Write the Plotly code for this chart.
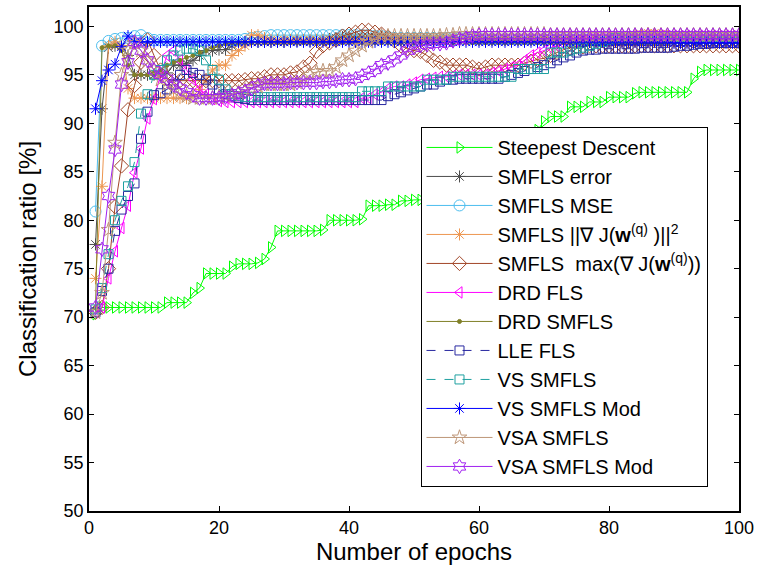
import plotly.graph_objects as go

epochs = list(range(1, 101))

steepest_descent = [
    70.3, 71.0, 71.0, 71.0, 71.0, 71.0, 71.0, 71.0, 71.0, 71.0,
    71.0, 71.5, 71.5, 71.5, 71.5, 72.5, 73.0, 74.5, 74.5, 74.5,
    74.5, 75.2, 75.5, 75.5, 75.5, 75.6, 76.0, 77.2, 78.9, 78.9,
    78.9, 78.9, 78.9, 78.9, 78.9, 79.0, 80.0, 80.0, 80.0, 80.0,
    80.0, 80.1, 81.5, 81.5, 81.5, 81.6, 81.6, 82.0, 82.0, 82.1,
    82.1, 82.5, 82.5, 82.7, 83.0, 83.5, 83.5, 84.0, 84.5, 85.0,
    85.0, 85.5, 86.0, 86.5, 87.0, 87.5, 88.0, 88.5, 89.3, 90.2,
    90.7, 90.7, 90.7, 91.7, 91.7, 91.7, 92.2, 92.2, 92.2, 92.7,
    92.7, 92.7, 92.7, 93.1, 93.2, 93.2, 93.2, 93.2, 93.2, 93.2,
    93.2, 93.2, 94.6, 95.3, 95.5, 95.5, 95.5, 95.5, 95.5, 95.5]

smfls_error = [
    77.5, 91.5, 97.8, 98.0, 98.0, 97.0, 95.0, 95.0, 95.0, 95.0,
    95.0, 95.2, 96.0, 96.0, 96.2, 96.5, 97.0, 97.5, 97.5, 97.6,
    97.6, 98.0, 98.2, 98.4, 98.4, 98.4, 98.4, 98.4, 98.4, 98.4,
    98.5, 98.5, 98.5, 98.5, 98.6, 98.6, 98.7, 98.8, 98.9, 98.9,
    98.9, 98.9, 98.9, 98.9, 98.9, 98.9, 98.8, 98.8, 98.8, 98.8,
    98.8, 98.8, 98.8, 98.8, 98.7, 98.7, 98.7, 98.7, 98.6, 98.6,
    98.6, 98.6, 98.6, 98.6, 98.6, 98.6, 98.6, 98.6, 98.6, 98.6,
    98.6, 98.6, 98.6, 98.6, 98.6, 98.6, 98.6, 98.6, 98.6, 98.6,
    98.6, 98.6, 98.6, 98.6, 98.6, 98.6, 98.6, 98.6, 98.6, 98.6,
    98.6, 98.6, 98.6, 98.6, 98.6, 98.6, 98.6, 98.6, 98.6, 98.6]

smfls_mse = [
    80.9, 98.0, 98.5, 98.7, 98.8, 98.8, 99.0, 99.1, 98.8, 98.6,
    98.6, 98.6, 98.6, 98.6, 98.6, 98.6, 98.6, 98.6, 98.6, 98.6,
    98.6, 98.6, 98.6, 98.7, 98.8, 98.9, 99.0, 99.1, 99.1, 99.1,
    99.1, 99.1, 99.1, 99.1, 99.1, 99.1, 99.1, 99.1, 99.1, 99.1,
    99.1, 99.1, 99.1, 99.0, 99.0, 98.9, 98.8, 98.8, 98.8, 98.8,
    98.8, 98.8, 98.8, 98.8, 98.8, 98.8, 98.8, 98.8, 98.8, 98.8,
    98.7, 98.7, 98.7, 98.7, 98.7, 98.7, 98.7, 98.7, 98.7, 98.7,
    98.7, 98.7, 98.7, 98.7, 98.7, 98.7, 98.7, 98.7, 98.7, 98.7,
    98.7, 98.7, 98.7, 98.7, 98.7, 98.7, 98.7, 98.7, 98.7, 98.7,
    98.7, 98.7, 98.7, 98.7, 98.7, 98.7, 98.7, 98.7, 98.7, 98.7]

smfls_grad = [
    74.0, 83.5, 98.0, 98.4, 98.0, 93.6, 92.6, 92.6, 92.6, 92.6,
    92.6, 92.6, 92.6, 92.6, 92.6, 92.8, 93.5, 94.5, 95.5, 96.0,
    96.0, 97.0, 97.5, 98.0, 99.1, 99.1, 98.8, 98.6, 98.6, 98.6,
    98.6, 98.6, 98.6, 98.6, 98.6, 98.6, 98.6, 98.6, 98.6, 98.6,
    98.6, 98.6, 98.6, 98.7, 98.7, 98.7, 98.7, 98.7, 98.7, 98.7,
    98.7, 98.7, 98.7, 98.7, 98.7, 98.7, 98.7, 98.7, 98.7, 98.7,
    98.7, 98.7, 98.7, 98.7, 98.7, 98.7, 98.7, 98.7, 98.7, 98.7,
    98.7, 98.7, 98.7, 98.7, 98.7, 98.7, 98.7, 98.7, 98.7, 98.7,
    98.7, 98.8, 98.9, 99.0, 99.2, 99.3, 99.3, 99.2, 99.0, 98.9,
    98.8, 98.8, 98.8, 98.8, 98.8, 98.8, 98.8, 98.8, 98.8, 98.8]

smfls_max = [
    70.5, 71.0, 75.0, 81.4, 85.6, 91.4, 93.9, 96.3, 98.6, 97.0,
    95.5, 94.6, 94.4, 94.4, 94.4, 94.4, 94.4, 94.4, 94.4, 94.4,
    94.4, 94.4, 94.4, 94.5, 94.6, 94.6, 94.8, 95.0, 95.0, 95.0,
    95.2, 95.3, 95.8, 96.2, 97.4, 98.0, 98.3, 98.6, 99.0, 99.2,
    99.4, 99.6, 99.6, 99.4, 99.2, 98.9, 98.5, 98.0, 97.7, 97.5,
    97.4, 97.0, 96.5, 96.3, 96.0, 96.0, 96.0, 96.0, 95.8, 95.6,
    95.8, 96.0, 96.0, 96.0, 96.0, 96.0, 96.2, 96.4, 96.6, 96.7,
    97.0, 97.3, 97.6, 97.8, 97.9, 97.9, 98.0, 98.0, 98.0, 98.0,
    98.0, 98.0, 98.0, 98.0, 98.0, 98.0, 98.0, 98.0, 98.0, 98.0,
    98.0, 98.0, 98.0, 98.0, 98.0, 98.0, 98.0, 98.0, 98.0, 98.0]

drd_fls = [
    70.5, 71.0, 74.0, 76.8, 79.2, 81.5, 84.9, 87.4, 90.5, 92.5,
    95.0, 97.0, 97.5, 96.5, 95.5, 94.5, 93.5, 93.0, 92.5, 92.3,
    92.2, 92.2, 92.2, 92.2, 92.2, 92.2, 92.2, 92.2, 92.2, 92.2,
    92.2, 92.2, 92.2, 92.2, 92.2, 92.2, 92.2, 92.2, 92.2, 92.2,
    92.2, 92.6, 92.6, 93.0, 93.2, 93.6, 93.8, 93.8, 94.0, 94.2,
    94.5, 94.6, 94.7, 94.8, 94.8, 94.9, 95.0, 95.0, 95.0, 95.0,
    95.0, 95.2, 95.4, 95.6, 95.8, 96.0, 96.5, 97.0, 97.3, 97.5,
    97.8, 98.0, 98.2, 98.4, 98.5, 98.6, 98.7, 98.8, 98.8, 98.9,
    98.9, 98.9, 98.9, 98.9, 98.9, 98.9, 99.0, 99.0, 99.0, 99.0,
    99.0, 99.0, 99.0, 99.0, 99.0, 99.0, 99.0, 99.0, 99.0, 99.0]

drd_smfls = [
    71.0, 97.8, 98.0, 98.0, 97.5, 96.0, 95.0, 95.0, 95.0, 95.2,
    95.5, 96.0, 96.3, 96.5, 96.8, 97.0, 97.3, 97.5, 97.8, 98.0,
    98.2, 98.3, 98.3, 98.3, 98.3, 98.3, 98.3, 98.3, 98.3, 98.3,
    98.3, 98.3, 98.3, 98.3, 98.3, 98.3, 98.3, 98.3, 98.3, 98.3,
    98.3, 98.3, 98.3, 98.3, 98.3, 98.3, 98.3, 98.3, 98.3, 98.3,
    98.3, 98.3, 98.3, 98.3, 98.3, 98.3, 98.3, 98.3, 98.3, 98.3,
    98.3, 98.3, 98.3, 98.3, 98.3, 98.3, 98.3, 98.3, 98.3, 98.3,
    98.3, 98.3, 98.3, 98.3, 98.3, 98.3, 98.3, 98.3, 98.3, 98.3,
    98.3, 98.3, 98.3, 98.3, 98.3, 98.3, 98.3, 98.3, 98.3, 98.3,
    98.3, 98.3, 98.3, 98.3, 98.3, 98.3, 98.3, 98.3, 98.3, 98.3]

lle_fls = [
    70.5, 72.7, 75.0, 78.9, 81.1, 82.5, 83.8, 88.4, 91.2, 92.9,
    93.1, 93.5, 94.0, 95.0, 95.5, 95.2, 95.0, 94.5, 94.0, 93.5,
    93.0, 92.8, 92.6, 92.5, 92.4, 92.4, 92.4, 92.4, 92.4, 92.4,
    92.4, 92.4, 92.4, 92.4, 92.4, 92.4, 92.4, 92.4, 92.4, 92.4,
    92.4, 92.4, 92.4, 92.4, 92.4, 92.8, 93.0, 93.2, 93.4, 93.6,
    93.8, 94.0, 94.0, 94.3, 94.5, 94.5, 94.6, 94.6, 94.6, 94.6,
    94.6, 94.6, 94.6, 94.8, 95.0, 95.2, 95.4, 95.6, 95.8, 96.0,
    96.2, 96.5, 96.8, 97.0, 97.3, 97.5, 97.6, 97.6, 97.7, 97.7,
    97.7, 97.7, 97.7, 97.7, 97.8, 97.8, 97.8, 97.8, 97.8, 97.9,
    98.0, 98.0, 98.1, 98.2, 98.2, 98.3, 98.3, 98.3, 98.3, 98.3]

vs_smfls = [
    70.8, 73.0, 76.5, 80.0, 82.0, 83.5, 86.0, 91.0, 93.0, 95.0,
    95.5, 96.5, 97.0, 97.5, 97.7, 97.7, 97.5, 96.5, 95.5, 94.5,
    93.5, 93.0, 92.8, 92.7, 92.7, 92.7, 92.7, 92.7, 92.7, 92.7,
    92.7, 92.7, 92.7, 92.7, 92.7, 92.7, 92.7, 92.7, 92.7, 92.7,
    92.7, 93.3, 93.3, 93.3, 93.3, 93.8, 93.8, 93.8, 93.8, 93.8,
    93.8, 94.5, 94.5, 94.5, 94.5, 94.8, 94.8, 94.8, 94.8, 94.8,
    94.8, 94.8, 94.8, 94.8, 94.8, 95.6, 95.6, 95.6, 95.6, 95.6,
    97.3, 97.3, 97.3, 97.5, 97.7, 97.8, 98.0, 98.2, 98.4, 98.6,
    98.8, 98.9, 98.9, 98.9, 98.9, 98.9, 98.9, 98.9, 98.9, 98.9,
    98.9, 98.9, 98.9, 98.9, 98.9, 98.9, 98.9, 98.9, 98.9, 98.9]

vs_smfls_mod = [
    91.5, 94.4, 95.5, 96.1, 97.9, 99.0, 98.4, 98.4, 98.4, 98.4,
    98.4, 98.4, 98.4, 98.4, 98.4, 98.4, 98.4, 98.4, 98.4, 98.4,
    98.4, 98.4, 98.4, 98.4, 98.4, 98.4, 98.4, 98.4, 98.4, 98.4,
    98.4, 98.4, 98.4, 98.4, 98.4, 98.4, 98.4, 98.4, 98.4, 98.4,
    98.4, 98.4, 98.4, 98.4, 98.4, 98.4, 98.4, 98.4, 98.4, 98.4,
    98.4, 98.4, 98.4, 98.4, 98.4, 98.4, 98.4, 98.4, 98.4, 98.4,
    98.4, 98.4, 98.4, 98.4, 98.4, 98.4, 98.4, 98.4, 98.4, 98.4,
    98.4, 98.4, 98.4, 98.4, 98.4, 98.4, 98.4, 98.4, 98.4, 98.4,
    98.4, 98.4, 98.4, 98.4, 98.4, 98.4, 98.4, 98.4, 98.4, 98.3,
    98.3, 98.3, 98.3, 98.3, 98.3, 98.3, 98.3, 98.3, 98.3, 98.3]

vsa_smfls = [
    70.5, 72.5, 79.0, 88.0, 95.0, 97.5, 98.3, 97.5, 96.5, 95.5,
    94.5, 94.0, 93.5, 93.0, 92.8, 92.6, 92.6, 92.6, 92.6, 92.7,
    92.8, 93.0, 93.2, 93.4, 93.6, 93.8, 94.0, 94.0, 94.0, 94.0,
    94.0, 94.2, 94.5, 95.0, 95.3, 95.4, 95.4, 95.8, 96.5, 97.0,
    97.5, 98.0, 98.4, 98.8, 99.0, 99.0, 99.0, 99.0, 99.0, 99.0,
    99.0, 99.0, 99.0, 99.0, 99.1, 99.1, 99.2, 99.2, 99.2, 99.2,
    99.2, 99.2, 99.2, 99.2, 99.2, 99.2, 99.2, 99.2, 99.2, 99.2,
    99.1, 99.1, 99.1, 99.1, 99.1, 99.1, 99.1, 99.1, 99.1, 99.1,
    99.1, 99.1, 99.1, 99.1, 99.1, 99.1, 99.1, 99.1, 99.1, 99.1,
    99.1, 99.1, 99.1, 99.1, 99.1, 99.1, 99.1, 99.1, 99.1, 99.1]

vsa_smfls_mod = [
    71.0, 77.0, 82.5, 87.3, 94.0, 96.3, 98.4, 97.5, 96.5, 95.5,
    95.0, 94.6, 94.0, 93.6, 93.2, 92.9, 92.6, 92.6, 92.6, 92.6,
    92.7, 92.9, 93.1, 93.3, 93.6, 93.9, 94.1, 94.1, 94.1, 94.1,
    94.2, 94.2, 94.2, 94.2, 94.2, 94.3, 94.3, 94.4, 94.5, 94.5,
    94.6, 94.9, 95.2, 95.5, 96.0, 96.2, 96.6, 97.0, 97.5, 97.8,
    98.0, 98.1, 98.2, 98.2, 98.3, 98.5, 98.7, 98.8, 99.0, 99.1,
    99.1, 99.1, 99.1, 99.1, 99.1, 99.1, 99.1, 99.1, 99.1, 99.1,
    99.1, 99.1, 99.1, 99.1, 99.1, 99.1, 99.1, 99.1, 99.1, 99.1,
    99.1, 99.1, 99.1, 99.1, 99.1, 99.1, 99.1, 99.1, 99.1, 99.1,
    99.1, 99.1, 99.1, 99.1, 99.1, 99.1, 99.1, 99.1, 99.1, 99.1]

series_names = [
    "Steepest Descent",
    "SMFLS error",
    "SMFLS MSE",
    "SMFLS ||∇ J(<b>w</b><sup>(q)</sup> )||<sup>2</sup>",
    "SMFLS  max(∇ J(<b>w</b><sup>(q)</sup>))",
    "DRD FLS",
    "DRD SMFLS",
    "LLE FLS",
    "VS SMFLS",
    "VS SMFLS Mod",
    "VSA SMFLS",
    "VSA SMFLS Mod",
]
series_values = [steepest_descent, smfls_error, smfls_mse, smfls_grad, smfls_max,
                 drd_fls, drd_smfls, lle_fls, vs_smfls, vs_smfls_mod, vsa_smfls, vsa_smfls_mod]

styles = [
    dict(color="rgb(0,255,0)", symbol="triangle-right-open", size=10, dash="solid"),
    dict(color="rgb(77,77,77)", symbol="asterisk-open", size=10, dash="solid"),
    dict(color="rgb(77,190,238)", symbol="circle-open", size=11, dash="solid"),
    dict(color="rgb(237,150,80)", symbol="asterisk-open", size=10, dash="solid"),
    dict(color="rgb(162,70,40)", symbol="diamond-open", size=11, dash="solid"),
    dict(color="rgb(255,0,255)", symbol="triangle-left-open", size=10, dash="solid"),
    dict(color="rgb(128,128,40)", symbol="circle", size=4, dash="solid"),
    dict(color="rgb(40,40,160)", symbol="square-open", size=9, dash="dash"),
    dict(color="rgb(30,160,160)", symbol="square-open", size=9, dash="dash"),
    dict(color="rgb(0,0,255)", symbol="asterisk-open", size=10, dash="solid"),
    dict(color="rgb(190,150,120)", symbol="star-open", size=11, dash="solid"),
    dict(color="rgb(160,32,240)", symbol="hexagram-open", size=11, dash="solid"),
]

fig = go.Figure()
for name, vals, st in zip(series_names, series_values, styles):
    fig.add_trace(go.Scatter(
        x=epochs, y=vals, name=name, mode="lines+markers",
        line=dict(color=st["color"], width=1, dash=st["dash"]),
        marker=dict(symbol=st["symbol"], size=st["size"], color=st["color"],
                    line=dict(color=st["color"], width=1)),
    ))

font_family = "Liberation Sans, Arial, sans-serif"
fig.update_layout(
    width=759, height=574,
    margin=dict(l=89, r=19, t=5, b=63),
    paper_bgcolor="white", plot_bgcolor="white",
    font=dict(family=font_family, color="black"),
    showlegend=True,
    legend=dict(
        x=0.51, y=0.762, xanchor="left", yanchor="top",
        bgcolor="white", bordercolor="black", borderwidth=1,
        font=dict(size=20, family=font_family, color="black"),
        tracegroupgap=0, itemwidth=66,
    ),
)
fig.update_xaxes(
    range=[0, 100], tickvals=[0, 20, 40, 60, 80, 100],
    ticks="inside", ticklen=5, tickcolor="black",
    showline=True, linecolor="black", linewidth=1.5, mirror="ticks",
    showgrid=False, zeroline=False,
    tickfont=dict(size=18),
    title=dict(text="Number of epochs", font=dict(size=24), standoff=6),
)
fig.update_yaxes(
    range=[50, 102], tickvals=[50, 55, 60, 65, 70, 75, 80, 85, 90, 95, 100],
    ticks="inside", ticklen=5, tickcolor="black",
    showline=True, linecolor="black", linewidth=1.5, mirror="ticks",
    showgrid=False, zeroline=False,
    tickfont=dict(size=18),
    title=dict(text="Classification ratio [%]", font=dict(size=24), standoff=10),
)

fig.write_html("out.html", config={"displayModeBar": False},
               post_script="document.body.style.margin='0px';")
